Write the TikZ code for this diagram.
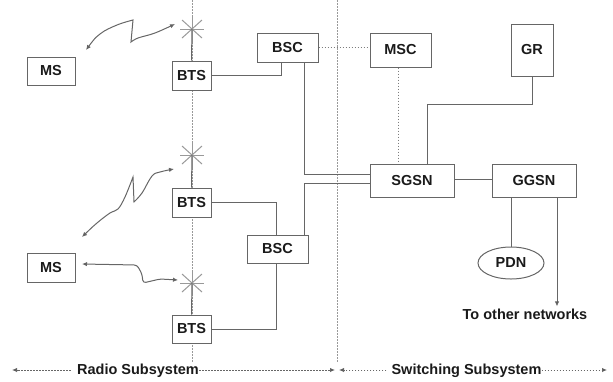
\documentclass[tikz,border=0pt]{standalone}
\usepackage{fontspec}
\setmainfont{Liberation Sans}
\usetikzlibrary{arrows.meta,shapes.geometric}
\definecolor{ln}{HTML}{666666}
\definecolor{dl}{HTML}{999999}
\definecolor{tx}{HTML}{1A1A1A}
\tikzset{
  box/.style={draw=ln,line width=1pt,fill=white,rectangle,inner sep=0pt,text=tx,
    font=\fontsize{14.5}{16}\selectfont\bfseries},
  conn/.style={draw=ln,line width=1pt},
  dots/.style={draw=dl,line width=1pt,dash pattern=on 1.5pt off 1.5pt},
  tip/.style={Latex[length=5pt,width=4.5pt,fill=tx]},
  bdots/.style={draw=ln,line width=0.9pt,dash pattern=on 1.5pt off 1.5pt,-{Latex[length=5pt,width=4.5pt,fill=tx]}},
  wave/.style={draw=ln,line width=1pt,{Latex[length=5pt,width=4.5pt,fill=tx]}-{Latex[length=5pt,width=4.5pt,fill=tx]}},
  starline/.style={draw=dl,line width=1pt},
  lbl/.style={text=tx,inner sep=0pt,font=\fontsize{14.5}{16}\selectfont\bfseries}
}
\begin{document}
\begin{tikzpicture}[x=1pt,y=-1pt]
\useasboundingbox (0,0) rectangle (613,381);
% dotted verticals
\coordinate (vt) at (192,0); \coordinate (vb) at (192,362);
\coordinate (st) at (337,0); \coordinate (sb) at (337,362);
\draw[dots] (vt) -- (vb);
\draw[dots] (st) -- (sb);
% antennas
\coordinate (ant1) at (192,29);
\coordinate (ant2) at (192,155);
\coordinate (ant3) at (192,283);
\foreach \a in {ant1,ant2,ant3}{
  \draw[starline] ([xshift=-12pt]\a) -- ([xshift=12pt]\a);
  \draw[starline] ([xshift=-10pt,yshift=9pt]\a) -- ([xshift=10pt,yshift=-9pt]\a);
  \draw[starline] ([xshift=-10pt,yshift=-9pt]\a) -- ([xshift=10pt,yshift=9pt]\a);
  \draw[starline] ([yshift=13pt]\a) -- ([yshift=-13pt]\a);
}
% nodes
\node[box,minimum width=48pt,minimum height=28pt] (MS1) at (51,71) {MS};
\node[box,minimum width=48pt,minimum height=29pt] (MS2) at (51,267.5) {MS};
\node[box,minimum width=39pt,minimum height=29pt] (BTS1) at (191.5,75.5) {BTS};
\node[box,minimum width=39pt,minimum height=29pt] (BTS2) at (191.5,202.5) {BTS};
\node[box,minimum width=39pt,minimum height=28pt] (BTS3) at (191.5,329) {BTS};
\node[box,minimum width=61pt,minimum height=29pt] (BSC1) at (287.5,47.5) {BSC};
\node[box,minimum width=61pt,minimum height=28pt] (BSC2) at (277.5,249) {BSC};
\node[box,minimum width=61pt,minimum height=34pt] (MSC) at (400.5,50) {MSC};
\node[box,minimum width=42pt,minimum height=52pt] (GR) at (532,50) {GR};
\node[box,minimum width=84pt,minimum height=33pt] (SGSN) at (412,180.5) {SGSN};
\node[box,minimum width=84pt,minimum height=33pt] (GGSN) at (534,180.5) {GGSN};
\node[box,ellipse,minimum width=66pt,minimum height=32pt] (PDN) at (511,263) {PDN};
\node[lbl] (oth) at (525,314) {To other networks};
% antenna feeders
\draw[conn] (ant1) -- (BTS1.north);
\draw[conn] (ant2) -- (BTS2.north);
\draw[conn] (ant3) -- (BTS3.north);
% connectors
\draw[conn] (BTS1.east) -| ([xshift=-6.5pt]BSC1.south);
\draw[conn] ([xshift=16.5pt]BSC1.south) |- ([yshift=6.5pt]SGSN.west);
\draw[conn] ([xshift=26.5pt]BSC2.north) |- ([yshift=-2.5pt]SGSN.west);
\draw[conn] (BTS2.east) -| ([xshift=-1.5pt]BSC2.north);
\draw[conn] ([xshift=-1.5pt]BSC2.south) |- (BTS3.east);
\draw[dots,draw=ln!85] (BSC1.east) -- (BSC1.east -| MSC.west);
\draw[dots,draw=ln!85] ([xshift=-2.5pt]MSC.south) -- ([xshift=-2.5pt]MSC.south |- SGSN.north);
\draw[conn] (GR.south) -- ++(0,28) -| ([xshift=15pt]SGSN.north);
\draw[conn] ([yshift=1.5pt]SGSN.east) -- ([yshift=1.5pt]SGSN.east -| GGSN.west);
\draw[conn] ([xshift=-23pt]GGSN.south) -- (PDN.north);
\draw[conn,-{Latex[length=5pt,width=4.5pt,fill=tx]}] ([xshift=23pt]GGSN.south) -- ([xshift=23pt,yshift=2pt]GGSN.south |- oth.north);
% radio links
\draw[wave] plot[smooth,tension=0.6] coordinates {(86,50) (100,34) (117,25) (133,20)}
  -- plot[smooth,tension=0.6] coordinates {(131,42) (138,38) (155,33) (175,24)};
\draw[wave] plot[smooth,tension=0.6] coordinates {(82,237) (97,223) (110,213) (118,209) (125,197) (133,177)}
  -- plot[smooth,tension=0.6] coordinates {(134,202) (142,193) (152,176) (160,172) (174,169)};
\draw[wave,rounded corners=3pt] (82,264) -- (137,265) -- (142,274) -- (143,283) -- (160,279) -- (178,280);
% subsystem labels
\node[lbl] (radio) at (138,371) {Radio Subsystem};
\node[lbl] (switch) at (466.5,371) {Switching Subsystem};
\coordinate (bl) at (12,370); \coordinate (bm1) at (335,370);
\coordinate (bm2) at (339,370); \coordinate (br) at (607,370);
\draw[bdots] ([xshift=-6pt]radio.west |- bl) -- (bl);
\draw[bdots] (radio.east |- bm1) -- (bm1);
\draw[bdots] ([xshift=-5pt]switch.west |- bm2) -- (bm2);
\draw[bdots] (switch.east |- br) -- (br);
\end{tikzpicture}
\end{document}
